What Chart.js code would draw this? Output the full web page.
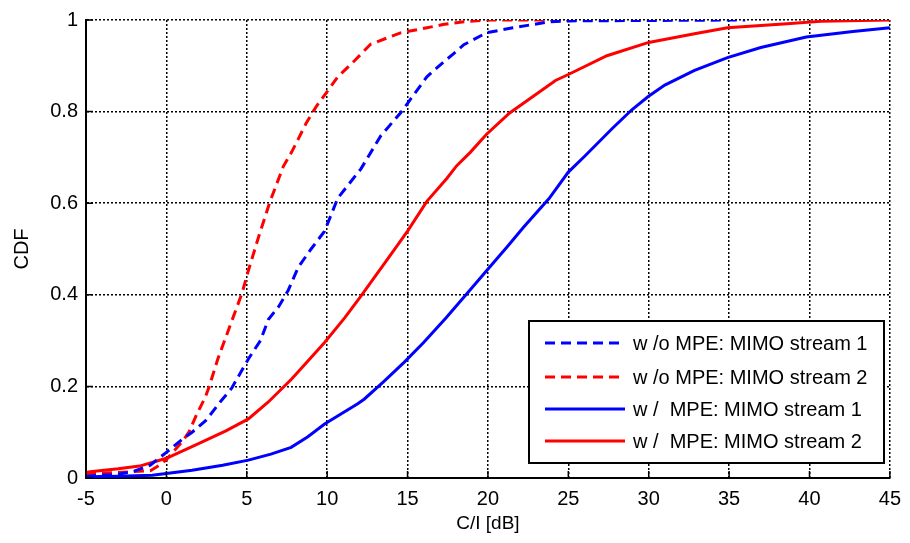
<!DOCTYPE html>
<html>
<head>
<meta charset="utf-8">
<script src="https://cdn.jsdelivr.net/npm/chart.js@4/dist/chart.umd.min.js"></script>
<style>
  html, body { margin: 0; padding: 0; background: #fff; }
  #wrap { width: 910px; height: 543px; }
</style>
</head>
<body>
<div id="wrap"><canvas id="cdf"></canvas></div>
<script>
// CDF of C/I, with and without MPE

const xTicks = [-5, 0, 5, 10, 15, 20, 25, 30, 35, 40, 45];
const yTicks = [0, 0.2, 0.4, 0.6, 0.8, 1];

const labels = [
    'w /o MPE: MIMO stream 1',
    'w /o MPE: MIMO stream 2',
    'w /  MPE: MIMO stream 1',
    'w /  MPE: MIMO stream 2'
];

// w/o MPE, stream 1 (dashed blue)
const woS1x = [-5, -3, -2, -1, 0, 1, 1.6, 2.44, 3.37, 4.06, 5.1, 5.85, 6.34, 7.0, 7.58, 8.2, 9.0, 9.84, 10.66, 12.1, 13.33, 14.56, 15, 16.2, 17.3, 17.85, 18.5, 19.9, 21.55, 23.8, 25, 30, 36];
const woS1y = [0.004, 0.008, 0.015, 0.028, 0.056, 0.085, 0.1, 0.125, 0.167, 0.196, 0.26, 0.3, 0.346, 0.375, 0.41, 0.46, 0.5, 0.539, 0.611, 0.675, 0.747, 0.797, 0.818, 0.876, 0.91, 0.926, 0.946, 0.972, 0.983, 0.996, 0.998, 0.999, 1.0];

// w/o MPE, stream 2 (dashed red)
const woS2x = [-5, -3, -2, -1, -0.43, 0, 0.5, 1, 1.4, 1.9, 2.4, 2.65, 3.2, 3.88, 4.7, 5.1, 5.73, 6.45, 7.27, 7.78, 8.2, 8.7, 9.32, 9.84, 10.66, 11.7, 12.7, 14.56, 16.2, 17.2, 18.5, 19.9, 25];
const woS2y = [0.01, 0.012, 0.014, 0.016, 0.028, 0.04, 0.06, 0.08, 0.10, 0.14, 0.175, 0.198, 0.26, 0.325, 0.403, 0.453, 0.526, 0.604, 0.68, 0.711, 0.74, 0.775, 0.811, 0.836, 0.876, 0.911, 0.947, 0.972, 0.983, 0.99, 0.996, 1.0, 1.0];

// w/ MPE, stream 1 (solid blue)
const wS1x = [-5, -3, -0.87, 1.6, 3.5, 5.1, 6.5, 7.76, 8.8, 9.84, 11.9, 12.3, 13.5, 14.8, 16.0, 17.4, 18.7, 20.1, 21.2, 22.2, 23.8, 25.0, 26.0, 27.7, 28.95, 29.97, 31.0, 32.85, 34.9, 36.97, 39.8, 42.7, 45];
const wS1y = [0.003, 0.004, 0.006, 0.017, 0.028, 0.039, 0.052, 0.067, 0.09, 0.118, 0.162, 0.172, 0.21, 0.253, 0.296, 0.35, 0.403, 0.46, 0.505, 0.547, 0.61, 0.668, 0.702, 0.762, 0.804, 0.833, 0.858, 0.89, 0.918, 0.94, 0.963, 0.975, 0.983];

// w/ MPE, stream 2 (solid red)
const wS2x = [-5, -4.75, -3, -1.67, 0, 2, 3.7, 5.1, 6.34, 7.76, 8.2, 9.84, 11.1, 12.1, 13.7, 15, 16.2, 17.44, 18.06, 18.9, 19.9, 21.35, 22.8, 24.2, 25, 27.4, 30, 32.85, 34.9, 38.6, 40.7, 45];
const wS2y = [0.012, 0.0135, 0.02, 0.026, 0.043, 0.075, 0.103, 0.129, 0.166, 0.215, 0.232, 0.296, 0.35, 0.397, 0.475, 0.539, 0.604, 0.654, 0.682, 0.711, 0.75, 0.797, 0.833, 0.868, 0.881, 0.922, 0.951, 0.97, 0.983, 0.992, 0.997, 1.0];

const pts = (xs, ys) => xs.map((x, i) => ({ x: x, y: ys[i] }));

const FONT = '"Liberation Sans", Arial, sans-serif';
const DASH = [10, 6];

// legend box drawn inside the plot, like MATLAB's
const boxLegend = {
    id: 'boxLegend',
    afterDatasetsDraw(chart) {
        const ctx = chart.ctx;
        const L = 529, T = 321, R = 884, B = 463;
        ctx.save();
        ctx.fillStyle = '#fff';
        ctx.fillRect(L, T, R - L, B - T);
        ctx.strokeStyle = '#000';
        ctx.lineWidth = 2;
        ctx.strokeRect(L, T, R - L, B - T);
        const rows = [343, 377, 409, 441];
        chart.data.datasets.forEach((ds, i) => {
            const y = rows[i];
            ctx.beginPath();
            ctx.setLineDash(ds.borderDash || []);
            ctx.strokeStyle = ds.borderColor;
            ctx.lineWidth = 3;
            ctx.moveTo(545, y);
            ctx.lineTo(625, y);
            ctx.stroke();
            ctx.setLineDash([]);
            ctx.fillStyle = '#000';
            ctx.font = '20px ' + FONT;
            ctx.textBaseline = 'middle';
            ctx.textAlign = 'left';
            ctx.fillText(ds.label, 633, y + 1);
        });
        ctx.restore();
    }
};

// small inward tick marks on the left and bottom axes
const innerTicks = {
    id: 'innerTicks',
    afterDraw(chart) {
        const ctx = chart.ctx;
        const a = chart.chartArea;
        const xs = chart.scales.x, ys = chart.scales.y;
        ctx.save();
        ctx.strokeStyle = '#000';
        ctx.lineWidth = 1.5;
        ctx.beginPath();
        xTicks.forEach(v => {
            const px = xs.getPixelForValue(v);
            ctx.moveTo(px, a.bottom);
            ctx.lineTo(px, a.bottom - 7);
        });
        yTicks.forEach(v => {
            const py = ys.getPixelForValue(v);
            ctx.moveTo(a.left, py);
            ctx.lineTo(a.left + 7, py);
        });
        ctx.stroke();
        ctx.restore();
    }
};

new Chart(document.getElementById('cdf'), {
    type: 'line',
    data: {
        datasets: [
            { label: labels[0], data: pts(woS1x, woS1y), borderColor: '#0000ff', borderDash: DASH },
            { label: labels[1], data: pts(woS2x, woS2y), borderColor: '#ff0000', borderDash: DASH },
            { label: labels[2], data: pts(wS1x, wS1y), borderColor: '#0000ff' },
            { label: labels[3], data: pts(wS2x, wS2y), borderColor: '#ff0000' }
        ]
    },
    options: {
        responsive: true,
        maintainAspectRatio: false,
        animation: false,
        layout: { padding: { top: 12, right: 13, left: 0, bottom: 0 } },
        elements: {
            point: { radius: 0 },
            line: { borderWidth: 3, tension: 0, fill: false, borderCapStyle: 'butt' }
        },
        plugins: {
            legend: { display: false },
            tooltip: { enabled: false }
        },
        scales: {
            x: {
                type: 'linear',
                min: -5,
                max: 45,
                afterBuildTicks: (s) => { s.ticks = xTicks.map(v => ({ value: v })); },
                afterFit: (s) => { s.height = 65; },
                ticks: { color: '#000', font: { family: FONT, size: 20 }, padding: 9, maxRotation: 0 },
                grid: { color: '#000', lineWidth: 1.5, drawTicks: false },
                border: { color: '#000', width: 2, dash: [2, 2] },
                title: { display: true, text: 'C/I [dB]', color: '#000', font: { family: FONT, size: 19 }, padding: { top: 0, bottom: 8 } }
            },
            y: {
                min: 0,
                max: 1,
                afterBuildTicks: (s) => { s.ticks = yTicks.map(v => ({ value: v })); },
                afterFit: (s) => { s.width = 86; },
                ticks: { color: '#000', font: { family: FONT, size: 20 }, padding: 8, callback: (v) => String(v) },
                grid: { color: '#000', lineWidth: 1.5, drawTicks: false },
                border: { color: '#000', width: 2, dash: [2, 2] },
                title: { display: true, text: 'CDF', color: '#000', font: { family: FONT, size: 20 }, padding: { top: 10, bottom: 0 } }
            }
        }
    },
    plugins: [innerTicks, boxLegend]
});
</script>
</body>
</html>
